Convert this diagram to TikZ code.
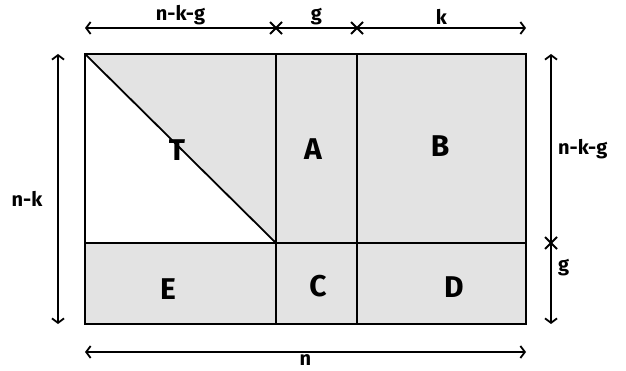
\documentclass[tikz,border=0pt]{standalone}
\usepackage{fontspec}
\setmainfont{Fira Sans}
\usetikzlibrary{arrows.meta,positioning,calc}
\definecolor{blockgray}{RGB}{227,227,227}

\tikzset{
  blockline/.style={line width=2.8pt, line join=miter},
  dimline/.style={line width=1.8pt,
    {Straight Barb[length=4.5pt,width=12pt,line width=1.8pt]}-{Straight Barb[length=4.5pt,width=12pt,line width=1.8pt]}},
  blocklabel/.style={font=\fontsize{30}{32}\selectfont\bfseries},
  dimlabel/.style={font=\fontsize{20}{22}\selectfont\bfseries, inner sep=1pt}
}
\newcommand{\dimcross}[1]{%
  \draw[line width=2pt] ($(#1)+(-6,-6)$) -- ($(#1)+(6,6)$);
  \draw[line width=2pt] ($(#1)+(-6,6)$) -- ($(#1)+(6,-6)$);}

\begin{document}
\begin{tikzpicture}[x=1pt, y=-1pt]
    \useasboundingbox (0,0) rectangle (626,371);
    % corners and dividers of the matrix
    \coordinate (tl) at (85,54);
    \coordinate (tr) at (526,54);
    \coordinate (bl) at (85,324);
    \coordinate (br) at (526,324);
    \coordinate (m1) at (276,243);
    \coordinate (m2) at (357,243);
    % grey blocks, T is white below the diagonal
    \fill[blockgray] (tl) rectangle (br);
    \fill[white] (tl) -- (m1) -- (85,243) -- cycle;
    % block outlines
    \draw[blockline] (tl) rectangle (br);
    \draw[blockline] (276,54) -- (276,324);
    \draw[blockline] (357,54) -- (357,324);
    \draw[blockline] (85,243) -- (526,243);
    \draw[line width=1.8pt] (tl) -- (m1);
    % block names
    \node[blocklabel] (T) at (177,150) {T};
    \node[blocklabel] (A) at (313,149) {A};
    \node[blocklabel] (B) at (440,146) {B};
    \node[blocklabel] (E) at (168,289) {E};
    \node[blocklabel] (C) at (318,286) {C};
    \node[blocklabel] (D) at (454,287) {D};
    % top dimensions
    \coordinate (topl) at (85,28);
    \coordinate (topc1) at (276,28);
    \coordinate (topc2) at (357,28);
    \coordinate (topr) at (526,28);
    \draw[dimline] (topl) -- (topr);
    \dimcross{topc1}
    \dimcross{topc2}
    \node[dimlabel, above=2pt] (nkgtop) at ($(topl)!0.5!(topc1)$) {n-k-g};
    \node[dimlabel, above=2pt] (gtop) at ($(topc1)!0.5!(topc2)$) {g};
    \node[dimlabel, above=2pt] (ktop) at ($(topc2)!0.5!(topr)$) {k};
    % left dimension
    \coordinate (leftt) at (58,54);
    \coordinate (leftb) at (58,324);
    \draw[dimline] (leftt) -- (leftb);
    \node[dimlabel] (nkleft) at (27,199) {n-k};
    % right dimensions
    \coordinate (rightt) at (551,54);
    \coordinate (rightc) at (551,243);
    \coordinate (rightb) at (551,324);
    \draw[dimline] (rightt) -- (rightb);
    \dimcross{rightc}
    \node[dimlabel, right=6pt] (nkgright) at (551,149) {n-k-g};
    \node[dimlabel, right=6pt] (gright) at (551,268) {g};
    % bottom dimension
    \coordinate (botl) at (85,352);
    \coordinate (botr) at (526,352);
    \draw[dimline] (botl) -- (botr);
    \node[dimlabel, below=1pt] (nbot) at ($(botl)!0.5!(botr)$) {n};
\end{tikzpicture}
\end{document}
